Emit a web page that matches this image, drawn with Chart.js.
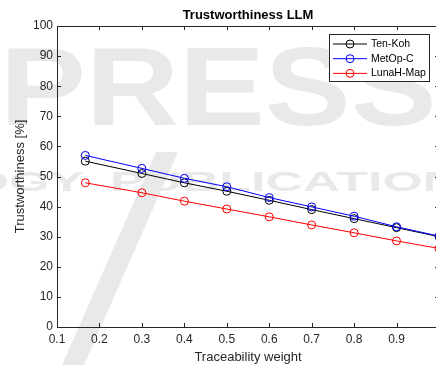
<!DOCTYPE html>
<html>
<head>
<meta charset="utf-8">
<script src="https://cdn.jsdelivr.net/npm/chart.js@4.4.1/dist/chart.umd.min.js"></script>
<style>
html, body { margin: 0; padding: 0; background: #fff; overflow: hidden; }
#wrap { width: 445px; height: 365px; }
</style>
</head>
<body>
<div id="wrap"><canvas id="myChart" width="445" height="365"></canvas></div>
<script>
// data
const weights = [0.1667, 0.3, 0.4, 0.5, 0.6, 0.7, 0.8, 0.9, 1.0];
const tenKoh = [55.1, 51.0, 47.9, 45.1, 42.1, 39.0, 36.0, 33.0, 30.0];
const metOpC = [57.0, 52.7, 49.4, 46.6, 43.0, 39.9, 36.8, 33.3, 30.2];
const lunaHMap = [47.9, 44.6, 41.8, 39.2, 36.6, 33.9, 31.3, 28.6, 26.1];
const seriesNames = ['Ten-Koh', 'MetOp-C', 'LunaH-Map'];
const seriesColors = ['#000000', '#0000ff', '#ff0000'];
const xTicks = [0.1, 0.2, 0.3, 0.4, 0.5, 0.6, 0.7, 0.8, 0.9, 1];
const xTickLabels = ['0.1', '0.2', '0.3', '0.4', '0.5', '0.6', '0.7', '0.8', '0.9', '']; // "1" falls off the cropped edge
const yTicks = [0, 10, 20, 30, 40, 50, 60, 70, 80, 90, 100];

const FONT = 'Liberation Sans, Arial, Helvetica, sans-serif';
const AXIS = '#262626';

function makeSet(i, values) {
    return {
        label: seriesNames[i],
        data: weights.map((w, k) => ({ x: w, y: values[k] })),
        borderColor: seriesColors[i],
        backgroundColor: 'rgba(0,0,0,0)',
        borderWidth: 1,
        pointRadius: 4,
        pointBorderWidth: 1,
        pointBackgroundColor: 'rgba(0,0,0,0)',
        pointBorderColor: seriesColors[i],
        tension: 0,
        order: 3 - i
    };
}

// faint publisher watermark behind the plot
const watermark = {
    id: 'watermark',
    beforeDraw(chart) {
        const c = chart.ctx;
        c.save();
        c.fillStyle = '#fff';
        c.fillRect(0, 0, chart.width, chart.height);
        c.fillStyle = '#e9e9e9';
        c.textBaseline = 'alphabetic';

        c.save();
        c.translate(0, 125);
        c.scale(1.15, 1);
        c.font = 'bold 112px ' + FONT;
        c.fillText('PRESS', 0, 0);
        c.restore();

        c.font = 'bold 28px ' + FONT;
        c.save();
        c.translate(110, 191);
        c.scale(1.85, 1);
        c.textAlign = 'left';
        c.fillText('PUBLICATIONS', 0, 0);
        c.restore();
        c.save();
        c.translate(84, 191);
        c.scale(1.85, 1);
        c.textAlign = 'right';
        c.fillText('OLOGY', 0, 0);
        c.restore();

        c.beginPath();
        c.moveTo(62, 365); c.lineTo(84, 365); c.lineTo(178, 152); c.lineTo(156, 152);
        c.closePath();
        c.fill();
        c.restore();
    }
};

// matlab style box, inward ticks, title and legend
const matlabAxes = {
    id: 'matlabAxes',
    afterDraw(chart) {
        const c = chart.ctx;
        const a = chart.chartArea;
        const xs = chart.scales.x, ys = chart.scales.y;
        c.save();
        c.strokeStyle = AXIS;
        c.lineWidth = 1;
        c.beginPath();
        c.moveTo(a.left, a.top + 0.5); c.lineTo(a.right, a.top + 0.5);
        c.moveTo(a.right - 0.5, a.top); c.lineTo(a.right - 0.5, a.bottom);
        for (const v of xTicks) {
            const px = Math.round(xs.getPixelForValue(v)) + 0.5;
            c.moveTo(px, a.bottom); c.lineTo(px, a.bottom - 4);
            c.moveTo(px, a.top); c.lineTo(px, a.top + 4);
        }
        for (const v of yTicks) {
            const py = Math.round(ys.getPixelForValue(v)) + 0.5;
            c.moveTo(a.left, py); c.lineTo(a.left + 4, py);
            c.moveTo(a.right, py); c.lineTo(a.right - 4, py);
        }
        c.stroke();

        // title
        c.fillStyle = '#000';
        c.font = 'bold 13px ' + FONT;
        c.textAlign = 'center';
        c.textBaseline = 'middle';
        c.fillText('Trustworthiness LLM', (a.left + a.right) / 2, 15);

        // legend
        const lx = 329, ly = 34, lw = 100, lh = 47;
        c.fillStyle = '#fff';
        c.fillRect(lx, ly, lw, lh);
        c.strokeStyle = AXIS;
        c.strokeRect(lx + 0.5, ly + 0.5, lw, lh);
        c.font = '10.5px ' + FONT;
        c.textAlign = 'left';
        chart.data.datasets.forEach((ds, i) => {
            const yy = ly + 10 + i * 14.7;
            c.strokeStyle = ds.borderColor;
            c.beginPath();
            c.moveTo(333, yy); c.lineTo(367, yy);
            c.stroke();
            c.beginPath();
            c.arc(350, yy, 4, 0, Math.PI * 2);
            c.stroke();
            c.fillStyle = '#000';
            c.fillText(ds.label, 371, yy);
        });
        c.restore();
    }
};

const ctx = document.getElementById('myChart').getContext('2d');
const myChart = new Chart(ctx, {
    type: 'line',
    data: {
        datasets: [makeSet(0, tenKoh), makeSet(1, metOpC), makeSet(2, lunaHMap)]
    },
    options: {
        responsive: false,
        animation: false,
        layout: { padding: { left: 0, right: 6, top: 26, bottom: 0 } },
        plugins: {
            legend: { display: false },
            tooltip: { enabled: false }
        },
        scales: {
            x: {
                type: 'linear',
                min: 0.1,
                max: 1.0,
                afterBuildTicks: s => { s.ticks = xTicks.map(v => ({ value: v })); },
                afterFit: s => { s.height = 38; },
                grid: { display: false, drawTicks: false },
                border: { display: true, color: AXIS, width: 1 },
                ticks: {
                    padding: 5,
                    color: AXIS,
                    font: { family: FONT, size: 12 },
                    maxRotation: 0,
                    autoSkip: false,
                    callback: (v, i) => xTickLabels[i]
                },
                title: {
                    display: true,
                    text: 'Traceability weight',
                    color: AXIS,
                    font: { family: FONT, size: 13 },
                    padding: { top: 0, bottom: 0 }
                }
            },
            y: {
                min: 0,
                max: 100,
                afterBuildTicks: s => { s.ticks = yTicks.map(v => ({ value: v })); },
                afterFit: s => { s.width = 57; },
                grid: { display: false, drawTicks: false },
                border: { display: true, color: AXIS, width: 1 },
                ticks: {
                    padding: 4,
                    color: AXIS,
                    font: { family: FONT, size: 12 },
                    autoSkip: false,
                    callback: v => String(v)
                },
                title: {
                    display: true,
                    text: 'Trustworthiness [%]',
                    color: AXIS,
                    font: { family: FONT, size: 13 },
                    padding: { top: 13, bottom: 0 }
                }
            }
        }
    },
    plugins: [watermark, matlabAxes]
});
</script>
</body>
</html>
